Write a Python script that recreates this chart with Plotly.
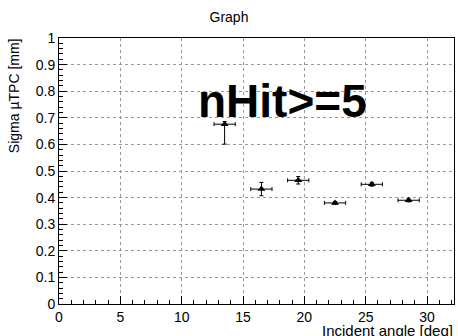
import plotly.graph_objects as go

angle = [13.5, 16.5, 19.5, 22.5, 25.5, 28.5]
angle_err = [0.866, 0.866, 0.866, 0.866, 0.866, 0.866]
sigma = [0.676, 0.432, 0.465, 0.380, 0.450, 0.390]
sigma_err_plus = [0.010, 0.025, 0.014, 0.005, 0.007, 0.006]
sigma_err_minus = [0.075, 0.025, 0.014, 0.005, 0.007, 0.006]

fig = go.Figure()
fig.add_trace(go.Scatter(
    x=angle, y=sigma, mode="markers",
    marker=dict(symbol="triangle-up", size=7, color="black"),
    error_x=dict(type="data", array=angle_err, color="black", thickness=1, width=2),
    error_y=dict(type="data", array=sigma_err_plus, arrayminus=sigma_err_minus,
                 symmetric=False, color="black", thickness=1, width=2),
    showlegend=False,
))

font = "Liberation Sans, Arial, Helvetica, sans-serif"
axis_common = dict(
    showline=True, linecolor="black", linewidth=1, mirror=True,
    ticks="inside", ticklen=8, tickcolor="black",
    showgrid=True, gridcolor="#999", griddash="dot", gridwidth=1,
    zeroline=False, tickfont=dict(family=font, size=14, color="black"),
)
fig.update_layout(
    width=458, height=336,
    margin=dict(l=59, r=4, t=38, b=32),
    paper_bgcolor="white", plot_bgcolor="white",
    xaxis=dict(range=[0, 32.2], dtick=5, tick0=0,
               minor=dict(ticks="inside", ticklen=4, dtick=1, tickcolor="black", showgrid=False),
               **axis_common),
    yaxis=dict(range=[0, 1], dtick=0.1, tick0=0,
               minor=dict(ticks="inside", ticklen=4, dtick=0.02, tickcolor="black", showgrid=False),
               **axis_common),
    title=dict(text="Graph", x=0.5, xanchor="center", y=0.95, yanchor="middle",
               font=dict(family=font, size=14, color="black")),
    annotations=[
        dict(text="Incident angle [deg]", xref="paper", yref="paper", x=1.003, y=-0.1,
             xanchor="right", yanchor="middle", showarrow=False,
             font=dict(family=font, size=15, color="black")),
        dict(text="Sigma µTPC [mm]", xref="paper", yref="paper", x=-0.112, y=1.008,
             xanchor="center", yanchor="top", textangle=-90, showarrow=False,
             font=dict(family=font, size=14, color="black")),
        dict(text="<b>nHit>=5</b>", xref="paper", yref="paper", x=0.567, y=0.765,
             xanchor="center", yanchor="middle", showarrow=False,
             font=dict(family=font, size=46, color="black")),
    ],
)
fig.write_html("out.html")
